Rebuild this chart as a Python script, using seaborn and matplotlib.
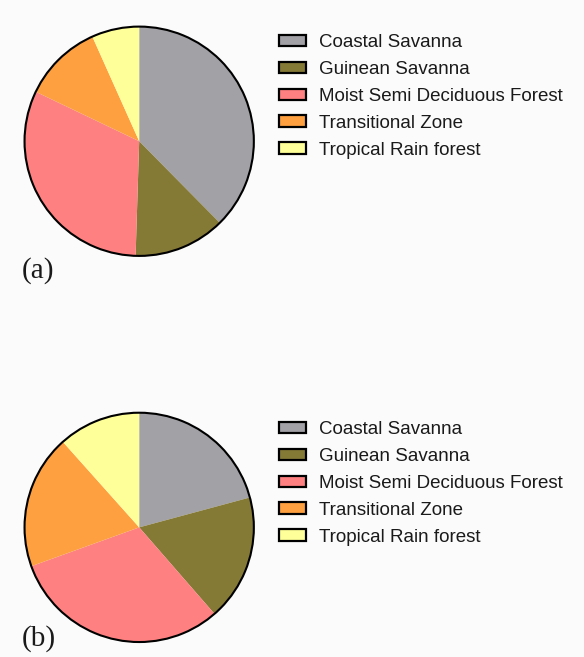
import matplotlib
matplotlib.use("Agg")
import matplotlib.pyplot as plt
import matplotlib.patches as mpatches
import seaborn as sns

# Zone names and their shares (percent)
zones = ["Coastal Savanna", "Guinean Savanna", "Moist Semi Deciduous Forest",
         "Transitional Zone", "Tropical Rain forest"]
share_a = [37.6, 12.9, 31.6, 11.2, 6.7]
share_b = [20.8, 17.8, 30.9, 18.9, 11.6]
panel_tags = ["(a)", "(b)"]

zone_colors = sns.color_palette(["#a2a1a6", "#857936", "#ff8080", "#ffa040", "#ffff99"])

sns.set_theme(style="white")
plt.rcParams["font.family"] = ["Liberation Sans", "DejaVu Sans"]

fig = plt.figure(figsize=(5.84, 6.57), dpi=100, facecolor="#fbfbfb")

# axes boxes in figure fraction: [left, bottom, width, height]
boxes = [[0.038, 0.607, 0.4007, 0.356], [0.038, 0.0193, 0.4007, 0.356]]
legend_anchor = [(0.449, 0.974), (0.449, 0.385)]
tag_pos = [(0.037, 0.577), (0.037, 0.018)]

for share, box, anchor, tag, tpos in zip([share_a, share_b], boxes, legend_anchor,
                                         panel_tags, tag_pos):
    ax = fig.add_axes(box)
    ax.pie(share, colors=zone_colors, startangle=90, counterclock=False,
           radius=1, wedgeprops=dict(linewidth=0))
    # outer outline
    ax.pie([1], radius=1, colors=["none"],
           wedgeprops=dict(fill=False, edgecolor="black", linewidth=1.5))
    ax.set_xlim(-1.02, 1.02)
    ax.set_ylim(-1.02, 1.02)
    ax.set_aspect("equal")
    ax.axis("off")

    handles = [mpatches.Patch(facecolor=c, edgecolor="black", linewidth=1.6)
               for c in zone_colors]
    fig.legend(handles, zones, loc="upper left", bbox_to_anchor=anchor,
               frameon=False, fontsize=13.5, handlelength=1.44, handleheight=0.55,
               handletextpad=0.7, labelspacing=0.53, labelcolor="#1a1a1a")

    fig.text(tpos[0], tpos[1], tag, fontsize=21, family=["Liberation Serif"],
             color="#1a1a1a", va="baseline")

fig.savefig("out.png", dpi=100, facecolor=fig.get_facecolor())
